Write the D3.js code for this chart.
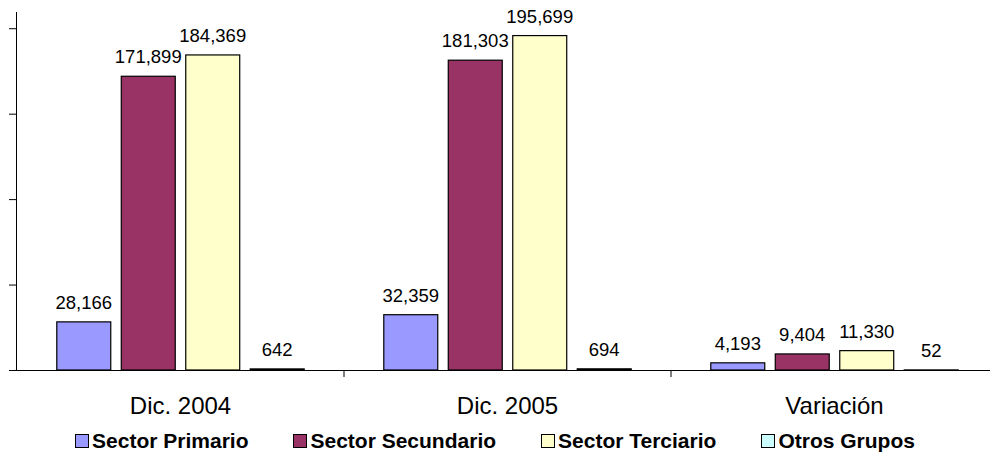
<!DOCTYPE html>
<html><head><meta charset="utf-8">
<script src="https://cdn.jsdelivr.net/npm/d3@7"></script>
<style>body{margin:0;background:#fff}svg{display:block}text{font-family:"Liberation Sans",Arial,sans-serif}</style>
</head><body><svg id="c" width="990" height="455"></svg>
<script>
const categories = ["Dic. 2004", "Dic. 2005", "Variación"];
const seriesNames = ["Sector Primario", "Sector Secundario", "Sector Terciario", "Otros Grupos"];
const seriesColors = ["#9999FF", "#993366", "#FFFFCC", "#CCFFFF"];
const primario = [28166, 32359, 4193];
const secundario = [171899, 181303, 9404];
const terciario = [184369, 195699, 11330];
const otros = [642, 694, 52];
const yTicks = [0, 50000, 100000, 150000, 200000];

const values = [primario, secundario, terciario, otros];
const svg = d3.select("#c");
const pLeft = 17, pRight = 998, pTop = 12, pBottom = 370;
const x0 = d3.scaleBand().domain(categories).range([pLeft, pRight]).padding(0);
const x1 = d3.scaleBand().domain(seriesNames).range([0, x0.bandwidth()]).paddingInner(0.163).paddingOuter(0.617);
const y = d3.scaleLinear().domain([0, 209500]).range([pBottom, pTop]);
const fmt = d3.format(",");

// y axis
const ya = svg.append("g").attr("transform", `translate(${pLeft},0)`)
  .call(d3.axisLeft(y).tickValues(yTicks).tickSize(8).tickFormat(""));
ya.select(".domain").attr("d", `M-0.5,${pTop}V${pBottom}`).attr("stroke", "#000");
ya.selectAll(".tick line").attr("stroke", "#000");

// bars
categories.forEach((c, ci) => {
  const g = svg.append("g").attr("transform", `translate(${x0(c)},0)`);
  seriesNames.forEach((s, si) => {
    const v = values[si][ci];
    const bx = x1(s), bw = x1.bandwidth();
    const yy = y(v);
    g.append("rect").attr("x", bx).attr("y", yy).attr("width", bw).attr("height", Math.max(0, pBottom - yy))
      .attr("fill", seriesColors[si]).attr("stroke", "#000").attr("stroke-width", 1.2);
    g.append("text").attr("x", bx + bw / 2).attr("y", yy - 13).attr("text-anchor", "middle")
      .attr("font-size", 18.5).attr("fill", "#000").text(fmt(v));
  });
});

// x axis
const xa = svg.append("g").attr("transform", `translate(0,${pBottom})`)
  .call(d3.axisBottom(x0).tickSize(0).tickPadding(0).tickFormat(""));
xa.select(".domain").attr("d", `M${pLeft},0.5H${pRight}`).attr("stroke", "#000");
xa.selectAll(".tick line").remove();
const bounds = categories.slice(1).map(c => x0(c));
svg.append("g").selectAll("line").data(bounds).join("line")
  .attr("x1", d => d).attr("x2", d => d).attr("y1", pBottom).attr("y2", pBottom + 7).attr("stroke", "#000");
svg.append("g").selectAll("text").data(categories).join("text")
  .attr("x", d => x0(d) + x0.bandwidth() / 2).attr("y", 414).attr("text-anchor", "middle")
  .attr("font-size", 24).text(d => d);

// legend (centered, equal gaps)
const lg = svg.append("g");
const items = seriesNames.map((s, i) => {
  const t = lg.append("text").attr("y", 448).attr("font-size", 21).attr("font-weight", "bold").text(s);
  const r = lg.append("rect").attr("y", 434.5).attr("width", 13).attr("height", 13)
    .attr("fill", seriesColors[i]).attr("stroke", "#000").attr("stroke-width", 1);
  return {t, r, w: t.node().getComputedTextLength()};
});
const sqW = 17, gap = 45;
const total = d3.sum(items, d => d.w + sqW) + gap * (items.length - 1);
let cx = 495 - total / 2;
items.forEach(d => {
  d.r.attr("x", Math.round(cx) + 0.5);
  d.t.attr("x", cx + sqW);
  cx += sqW + d.w + gap;
});
</script></body></html>
